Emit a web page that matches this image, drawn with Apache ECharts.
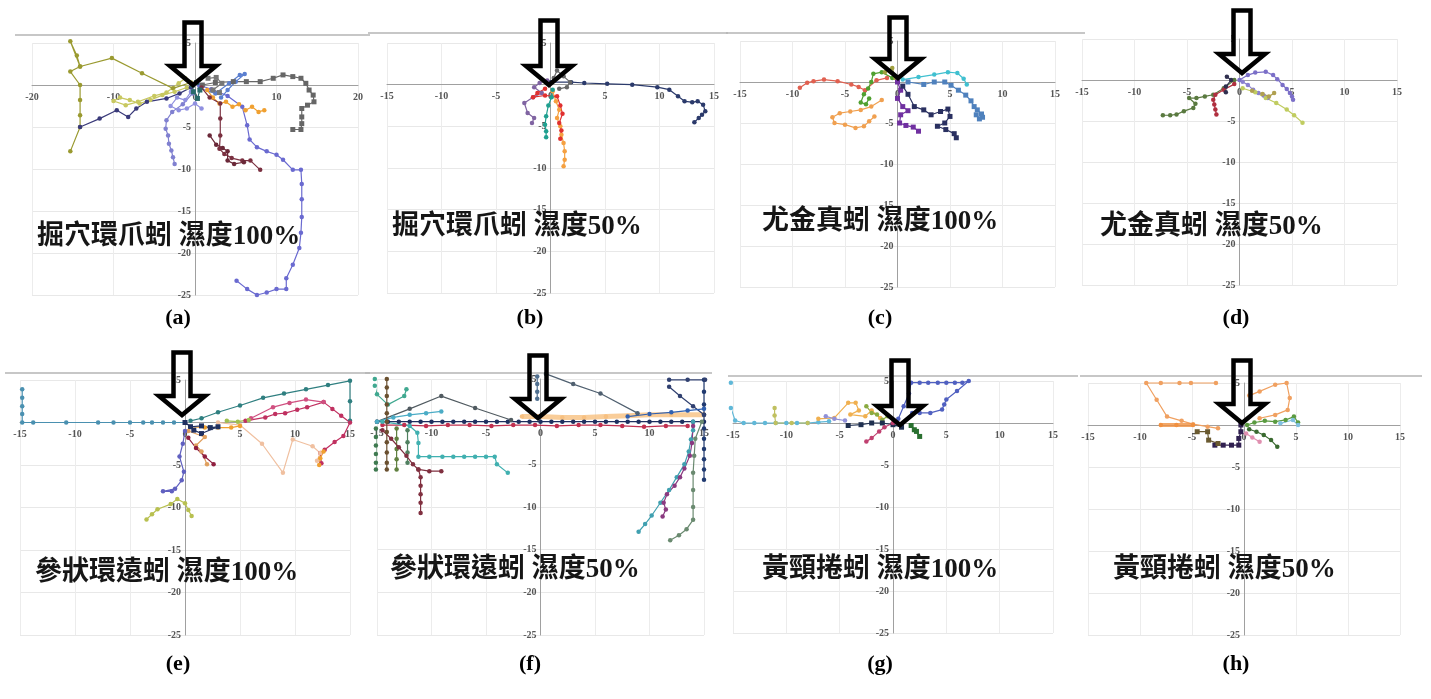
<!DOCTYPE html>
<html><head><meta charset="utf-8">
<script src="https://cdn.jsdelivr.net/npm/echarts@6/dist/echarts.min.js"></script>
<style>html,body{margin:0;padding:0;background:#fff}#c{width:1431px;height:699px}</style>
</head><body><div id="c"></div>
<script>
// ---------- DATA ----------
const panelTitles = ['掘穴環爪蚓 濕度100%','掘穴環爪蚓 濕度50%','尤金真蚓 濕度100%','尤金真蚓 濕度50%',
  '參狀環遠蚓 濕度100%','參狀環遠蚓 濕度50%','黃頸捲蚓 濕度100%','黃頸捲蚓 濕度50%'];
const captions = ['(a)','(b)','(c)','(d)','(e)','(f)','(g)','(h)'];
const xRanges = [[-20,20,10],[-15,15,5],[-15,15,5],[-15,15,5],[-15,15,5],[-15,15,5],[-15,15,5],[-15,15,5]];
const yRange = [-25,5,5];

// (a)
const A_olive = [[-0.5,0.3],[-2.7,-0.4],[-6.5,1.4],[-10.2,3.2],[-14.1,2.2],[-15.3,5.2],[-14.5,3.5],[-14.1,2.2],[-15.3,1.6],[-14.1,0],[-14.1,-1.8],[-14.1,-3.6],[-14.1,-5.0],[-15.3,-7.9]];
const A_yg = [[-1.0,-0.3],[-2.5,-0.8],[-4.0,-1.2],[-5.5,-1.8],[-6.8,-2.2],[-8.0,-1.8],[-9.2,-1.5],[-10.0,-1.9],[-8.5,-2.4],[-7.0,-2.0],[-5.0,-1.3],[-3.5,-0.9],[-2.0,0.2],[-1.2,0.8]];
const A_navy = [[-14.1,-5.0],[-11.7,-4.0],[-9.6,-3.0],[-8.2,-3.8],[-7.2,-2.8],[-5.9,-2.0],[-3.5,-1.6],[-1.9,-1.0],[-0.5,-0.3]];
const A_lav = [[-0.3,-1.0],[-1.5,-2.3],[-2.8,-3.2],[-3.5,-4.2],[-3.6,-5.2],[-3.3,-6.0],[-3.2,-7.0],[-2.9,-7.8],[-2.7,-8.6],[-2.5,-9.4]];
const A_lav2 = [[-0.5,-0.8],[-1.2,-1.8],[-2.2,-1.5],[-3.0,-2.5],[-2.0,-3.0],[-1.0,-2.8],[0.0,-2.2],[0.8,-2.8]];
const A_blue = [[0.5,0],[2,-0.5],[4,-1.3],[5.8,-2.6],[6.4,-4.8],[6.7,-6.5],[7.6,-7.4],[8.8,-7.9],[10,-8.3],[10.8,-8.9],[12,-10.1],[13,-10.1],[13.1,-11.8],[13.1,-13.6],[13.1,-15.7],[13,-17.6],[12.8,-19.4],[12,-21.4],[11.2,-23],[11.2,-24.3],[10,-24.3],[8.8,-24.7],[7.6,-25],[6.4,-24.3],[5.1,-23.3]];
const A_blue2 = [[0.6,-0.4],[2.5,-1.0],[4.2,0.2],[5.5,1.2],[6.1,1.3],[5.0,0.4],[4.0,-0.6],[3.2,-1.5]];
const A_gray = [[0.9,0],[2.5,0.3],[4.7,0.4],[6.3,0.4],[8.0,0.4],[9.6,0.8],[10.8,1.2],[12.0,1.0],[13.0,0.8],[13.6,0.2],[14.0,-0.6],[14.5,-1.2],[14.6,-2.0],[13.8,-2.4],[13.1,-2.8],[13.1,-3.8],[13.1,-4.6],[13.0,-5.3],[12.0,-5.3]];
const A_gray2 = [[1.6,0.8],[2.6,0.9],[3.3,0.2],[2.2,-0.6],[3.0,-0.9]];
const A_orange = [[1.5,-0.6],[2.2,-1.5],[3.0,-2.2],[3.8,-2.0],[4.6,-2.6],[5.4,-2.3],[6.2,-3.0],[7.0,-2.6],[7.8,-3.2],[8.5,-3.0]];
const A_maroon = [[0.8,-0.3],[1.8,-1.5],[3.1,-2.2],[3.1,-4.0],[3.1,-6.0],[3.0,-7.6],[3.6,-8.2],[4.5,-8.7],[5.8,-9.0],[6.8,-9.0],[8.0,-10.1]];
const A_maroon2 = [[1.8,-6.0],[2.6,-7.1],[3.4,-7.5],[4.0,-7.9],[4.0,-9.0],[4.8,-9.4],[6.0,-9.2]];
const A_teal = [[-0.3,0],[-0.2,-0.8],[0.3,-1.6],[0.6,-0.6],[0.2,0.3]];

// (b)
const B_navy = [[0,0.3],[1.9,0.3],[3.1,0.2],[5.2,0.1],[7.5,0],[9.8,-0.3],[10.9,-0.6],[11.7,-1.4],[12.3,-2.0],[13,-2.1],[13.5,-2.0],[14,-2.4],[14.2,-3.2],[13.9,-3.6],[13.6,-4.0],[13.2,-4.5]];
const B_purple = [[-0.3,0.5],[-1.0,0.2],[-1.5,-0.3],[-0.8,-1.0],[-1.6,-1.5],[-2.4,-2.2],[-2.1,-3.4],[-1.5,-4.0],[-1.7,-4.6]];
const B_gray = [[0.3,0.8],[0.6,1.7],[1.2,1.0],[1.8,0.3],[1.5,-0.3],[0.8,-0.5]];
const B_orange = [[0.2,-0.8],[0.5,-2],[0.8,-3],[0.6,-4],[0.9,-5],[1.0,-6],[1.2,-7],[1.3,-8],[1.3,-9],[1.2,-9.8]];
const B_red = [[-0.5,-0.5],[-1.2,-1.0],[-1.6,-1.5],[-0.5,-1.3],[0.6,-1.4],[0.9,-2.5],[1.1,-3.5],[0.8,-4.6],[1.0,-5.5],[0.9,-6.5]];
const B_teal = [[0.2,-0.6],[0.1,-1.5],[-0.2,-2.5],[-0.4,-3.8],[-0.5,-4.8],[-0.4,-5.6],[-0.4,-6.3]];

// (c)
const C_red = [[-1,0.5],[-2,0.2],[-3.1,-1.0],[-3.7,-0.6],[-4.4,-0.3],[-5.7,0.1],[-7.0,0.3],[-8.0,0.1],[-8.6,-0.1],[-9.3,-0.7]];
const C_green = [[-0.5,0.5],[-1.5,1.2],[-2.3,1.0],[-2.5,0],[-2.8,-0.8],[-3.2,-1.5],[-3.5,-2.5],[-3.0,-2.7],[-2.7,-2.0]];
const C_orange = [[-1.5,-2.2],[-2.5,-3.0],[-3.5,-3.4],[-4.5,-3.6],[-5.5,-3.8],[-6.2,-4.3],[-6.0,-5.0],[-5.0,-5.2],[-4.0,-5.6],[-3.2,-5.4],[-2.7,-4.8],[-2.2,-4.2]];
const C_olive = [[-0.2,0.5],[-0.5,1.7],[-1.2,1.2]];
const C_purple = [[0,0],[0.3,-1],[0.0,-2],[0.5,-3],[1.0,-3.5],[0.3,-4],[0.2,-5],[0.8,-5.3],[1.5,-5.5],[2,-6]];
const C_navy = [[0.5,-0.5],[1,-1.5],[1.6,-3.0],[2.5,-3.4],[3.2,-4.0],[4.1,-3.6],[4.8,-3.3],[5.0,-4.2],[4.5,-5.0],[3.8,-5.4],[4.6,-5.8],[5.4,-6.3],[5.6,-6.8]];
const C_blue = [[1,0],[2.5,-0.3],[3.5,0],[4.5,0],[5.1,-0.4],[5.8,-1],[6.5,-1.6],[7,-2.3],[7.3,-3],[7.6,-3.4],[8,-3.9],[8.1,-4.3],[7.8,-4.5],[7.5,-4.0]];
const C_aqua = [[0.5,0.3],[2,0.6],[3.5,0.9],[4.8,1.2],[5.7,1.1],[6.3,0.4],[6.6,-0.3]];

// (d)
const D_purple = [[0,0],[0.8,0.6],[1.5,0.9],[2.5,1.0],[3.2,0.6],[3.6,0.1],[4.1,-0.6],[4.5,-1.1],[4.8,-1.6],[5.0,-2.0],[5.1,-2.4]];
const D_purple2 = [[0.3,-0.2],[0.8,-0.6],[1.3,-1.2],[1.8,-1.6],[2.3,-1.9],[2.7,-2.2]];
const D_yg = [[0.3,-1.0],[1.5,-1.5],[2.5,-2.2],[3.5,-2.8],[4.5,-3.6],[5.2,-4.3],[6.0,-5.2]];
const D_olive = [[1.2,-1.3],[2.2,-1.7],[2.8,-2.0],[3.3,-1.6]];
const D_green = [[-0.5,0],[-1.5,-1],[-2.5,-1.8],[-3.3,-2.0],[-4.1,-2.2],[-4.8,-2.2],[-4.2,-2.9],[-4.4,-3.4],[-5.3,-3.8],[-6.0,-4.2],[-6.6,-4.3],[-7.3,-4.3]];
const D_red = [[-0.5,-0.5],[-1.5,-1.2],[-2.3,-1.8],[-2.5,-2.4],[-2.4,-3.0],[-2.3,-3.6],[-2.2,-4.2]];
const D_navy = [[-1.2,0.4],[-0.8,0],[-1.3,-0.8],[-1.3,-1.5]];

// (e)
const E_blue = [[0,0],[-1,0],[-2,0],[-3,0],[-3.8,0],[-5,0],[-6.5,0],[-7.9,0],[-10.8,0],[-13.8,0],[-14.8,0],[-14.8,1.0],[-14.8,1.9],[-14.8,2.9],[-14.8,3.9]];
const E_teal = [[0.5,0.2],[1.5,0.5],[3,1.2],[5,2],[7.1,2.9],[9,3.4],[11,3.9],[13,4.4],[15,4.9],[15,2.5],[15,0.2]];
const E_crimson = [[5.5,0.2],[7.3,0.6],[8.2,1.0],[9.1,1.1],[10.2,1.5],[11.1,1.8],[12.6,2.4],[13.4,1.6],[14.2,0.8],[15,0],[14.4,-1.6],[13.6,-2.3],[12.7,-3.2],[12.3,-3.6],[12.4,-4.8]];
const E_pink = [[6,0.5],[8,1.8],[9.5,2.3],[11,2.7],[12.6,2.4]];
const E_peach = [[3,0],[5,-0.3],[7,-2.5],[8.9,-5.9],[9.8,-2.0],[11.6,-2.8],[12.3,-3.6],[12,-4.5]];
const E_orange = [[0.5,-0.5],[1.8,-0.6],[3,-0.6],[4.2,-0.6],[5,-0.4]];
const E_orange2 = [[12.6,-3.4],[12.3,-4.2],[12.2,-5.0]];
const E_lgreen = [[3.8,0.2],[4.8,0.1],[5.8,0.3]];
const E_navy = [[0,0],[0.5,-0.5],[1.5,-0.4],[2.3,-0.6],[3,-0.5],[1.5,-1.3],[0.8,-0.9]];
const E_tan = [[0.3,-1],[1.8,-1.7],[1,-2.7],[1.5,-3.4],[2,-4.9]];
const E_maroon = [[0.3,-1.8],[1.0,-3.0],[1.8,-4.0],[2.6,-4.9]];
const E_purple = [[0,-1],[-0.2,-2.5],[-0.5,-4],[-0.1,-5.8],[-0.3,-6.8],[-0.9,-7.8],[-2.0,-8.1],[-1.2,-8.1]];
const E_yg = [[-3.5,-11.4],[-3,-10.8],[-2.5,-10.2],[-1.3,-9.6],[-0.7,-9.0],[0,-9.5],[0.3,-10.3],[0.6,-11.0]];

// (f)
const F_navy = [[-15,0],[-14,0],[-13,0],[-12,0],[-11,0],[-10,0],[-9,0],[-8,0],[-7,0],[-6,0],[-5,0],[-4,0],[-3,0],[-2,0],[-1,0],[0,0],[1,0],[2,0],[3,0],[4,0],[5,0],[6,0],[7,0],[8,0],[9,0],[10,0],[11,0],[12,0],[13,0],[14,0],[15,0]];
const F_crimson = [[-14.5,-0.4],[-12.5,-0.4],[-10.5,-0.5],[-8.5,-0.4],[-6.5,-0.4],[-4.5,-0.5],[-2.5,-0.4],[-0.5,-0.4],[1.5,-0.5],[3.5,-0.4],[5.5,-0.4],[7.5,-0.5],[9.5,-0.6],[11.5,-0.5],[13.5,-0.5]];
const F_orange = [[-1.7,0.6],[0,0.6],[2,0.5],[4,0.5],[6,0.6],[8,0.7],[10,0.8],[12,0.8],[15,0.8]];
const F_gray = [[-15,0],[-12,1.5],[-9.1,3.0],[-6,1.6],[-2.7,0.2]];
const F_slate = [[0.5,5.6],[3,4.4],[5.5,3.3],[8.9,1.0]];
const F_slate2 = [[-0.3,5.3],[-0.3,4.4],[-0.3,3.5],[-0.3,2.7]];
const F_teal = [[-15,0],[-13.5,0.5],[-12,0.8],[-10.5,1.0],[-9.1,1.2]];
const F_teal2 = [[-14.5,0],[-12,-0.5],[-11.3,-1.3],[-11.2,-2.5],[-11.2,-4.1],[-10.2,-4.1],[-9,-4.1],[-8,-4.1],[-7,-4.1],[-6,-4.1],[-5,-4.1],[-4.2,-4.1],[-4.0,-5.0],[-3.0,-6.0]];
const F_teal3 = [[-15.2,5.0],[-15.2,4.2],[-15.0,3.2],[-14,2.0],[-12.5,3.0],[-12.3,3.8]];
const F_green = [[-15.1,-0.8],[-15.1,-1.8],[-15.1,-2.8],[-15.1,-3.8],[-15.1,-4.8],[-15.1,-5.6]];
const F_brown = [[-14.1,5.0],[-14.1,4.0],[-14.1,3.0],[-14.1,2.0],[-14.1,1.0],[-14.1,0],[-14.1,-1.2],[-14.1,-2.4],[-14.1,-3.6],[-14.1,-4.8],[-14.1,-5.6]];
const F_green2 = [[-13.2,-0.8],[-13.2,-2],[-13.2,-3.2],[-13.2,-4.4],[-13.2,-5.6]];
const F_green3 = [[-12.2,-1],[-12.2,-2.4],[-12.2,-3.6],[-12.2,-4.8]];
const F_maroon = [[-14.5,-1],[-13.7,-2],[-13,-3],[-12.3,-4],[-11.7,-5],[-11.2,-5.6],[-11,-6.5],[-11,-7.5],[-11,-8.5],[-11,-9.5],[-11,-10.7]];
const F_maroon2 = [[-11.2,-5.6],[-10.2,-5.8],[-9.1,-5.8]];
const F_dark = [[15,4.9],[15,3.5],[15,2],[15,0.8],[15,-0.8],[15,-2],[15,-3.2],[15,-4.4],[15,-5.6],[15,-6.8]];
const F_graygreen = [[14.8,0],[14.2,-2],[14.1,-4],[14,-6],[14,-8],[14,-10],[14,-11.5],[13.4,-12.6],[12.7,-13.3],[11.9,-13.9]];
const F_aqua = [[14,0],[14,-1],[13.8,-2.1],[13.6,-3.5],[13.2,-5],[12.5,-6.5],[11.8,-8],[11,-9.5],[10.2,-11],[9.6,-12],[9.0,-12.9]];
const F_magenta = [[14,-0.5],[13.9,-2.5],[13.7,-4],[13.2,-5.5],[12.8,-6.5],[12.3,-7.5],[11.6,-8.5],[11.3,-9.5],[11.5,-10.3],[11.2,-11.1]];
const F_top1 = [[11.8,4.9],[13.5,4.9],[15.1,4.9]];
const F_top2 = [[11.8,4.1],[12.8,3.0],[14,1.8],[15,0.8]];
const F_blue = [[8,0.6],[10,0.9],[12,1.1],[13.5,1.3],[15,1.5]];

// (g)
const G_aqua = [[-15.2,4.8],[-15.2,1.8],[-14.8,0.3],[-14,0],[-13,0],[-12,0],[-11,0],[-10,0],[-9,0],[-8,0],[-7,0.1],[-6,0.2]];
const G_khaki = [[-11.1,1.8],[-11.1,0.9],[-11,0],[-9.5,0],[-8,0]];
const G_orange = [[-7,0.5],[-5.5,0.6],[-4.2,2.4],[-3.5,2.4],[-3.2,1.5],[-4,1.0],[-2.6,0.8],[-2,1.5],[-1.2,0.6]];
const G_green = [[-2.5,2],[-2,1.2],[-1.5,1],[-1,0.4],[-0.5,0.8]];
const G_navy = [[-4.2,-0.3],[-3,-0.2],[-2,0],[-1,0],[0,-0.2],[0.8,-0.5]];
const G_blue = [[0.5,0.5],[1,2],[1.5,3.5],[1.7,4.8],[2.5,4.8],[3.3,4.8],[4.2,4.8],[5,4.8],[5.8,4.8],[6.5,4.8],[7.1,5.0],[6,3.8],[5,2.8],[4.8,2.2],[4.6,1.6],[3.5,1.2],[2.5,1.2],[1.8,1.2]];
const G_pink = [[0,0],[-0.8,-0.5],[-1.3,-1],[-2,-1.8],[-2.5,-2.2]];
const G_dgreen = [[1.7,-0.3],[2.0,-0.8],[2.5,-1.6],[2.2,-1.0]];
const G_lav = [[-6.3,0.8],[-5.5,0.5],[-4.5,0.3]];

// (h)
const H_orange = [[-2.7,5],[-5.1,5],[-6.2,5],[-8,5],[-9.4,5],[-8.4,3],[-7.4,1.0],[-6,0.5],[-4.9,0.1],[-3.5,-0.2],[-2.5,-0.4]];
const H_orange2 = [[0.5,3.5],[1.5,4],[3,4.8],[4.1,5.0],[4.4,3.2],[4.2,1.8],[3,1.2],[1.5,0.8]];
const H_orange3 = [[-8,0],[-6.5,0],[-4.9,0]];
const H_navy = [[-0.3,0],[-0.3,-0.8],[-0.5,-1.6],[-0.5,-2.4],[-1.2,-2.4],[-2,-2.4],[-2.8,-2.4]];
const H_brown = [[-4.5,-0.8],[-3.5,-0.8],[-3.4,-1.8],[-2.5,-2.2]];
const H_green = [[0.3,0],[1,0.3],[2,0.5],[3,0.4],[4,0.6],[4.8,1.0],[5.2,0.3]];
const H_dgreen = [[0.5,-0.5],[1.2,-0.8],[1.9,-1.2],[2.6,-1.8],[3.2,-2.6]];
const H_lblue = [[3.5,0.2],[4.7,0.6],[5.2,0]];
const H_pink = [[0.2,-1],[0.8,-1.5],[1.5,-2]];

// ---------- LAYOUT / STYLE ----------
const layout = [
  {g:[32,43,326,252],  t:[37,224],   ar:[193,20,90],   c:[178,320], line:[15,35,370]},
  {g:[387,43,327,250], t:[392,214],  ar:[549,18,90],   c:[530,320], line:[368,33,728]},
  {g:[740,41,315,246], t:[762,209],  ar:[898,15,83],   c:[880,320], line:[726,33,1085]},
  {g:[1082,39,315,246],t:[1100,214], ar:[1242,8,78],   c:[1236,320], line:null},
  {g:[20,380,330,255], t:[35,560],   ar:[182,350,420], c:[178,666], line:[5,373,370]},
  {g:[377,379,327,256],t:[390,557],  ar:[538,353,423], c:[530,666], line:[365,373,712]},
  {g:[733,381,320,252],t:[762,557],  ar:[900,358,430], c:[880,666], line:[728,376,1078]},
  {g:[1088,383,312,252],t:[1113,557],ar:[1242,358,428],c:[1236,666], line:[1080,376,1422]}
];
const panelSeries = [
  [[A_olive,'#9a9a30'],[A_yg,'#c8c860'],[A_navy,'#3a3a7a'],[A_lav,'#8080d0'],[A_lav2,'#9090e0'],[A_blue,'#6a6ad0'],[A_blue2,'#5b7fd0'],[A_gray,'#666666','rect'],[A_gray2,'#777777','rect'],[A_orange,'#f0a030'],[A_maroon,'#7a3040'],[A_maroon2,'#6a2838'],[A_teal,'#2a6a6a','rect']],
  [[B_navy,'#2b3a6b'],[B_purple,'#8064a2'],[B_gray,'#666666'],[B_orange,'#f5a040'],[B_red,'#e03030'],[B_teal,'#20a090']],
  [[C_red,'#e06050'],[C_green,'#50a030'],[C_orange,'#f0a050'],[C_olive,'#a0a040'],[C_purple,'#7030a0','rect'],[C_navy,'#2a3060','rect'],[C_blue,'#4f81bd','rect'],[C_aqua,'#40c0d0']],
  [[D_purple,'#7b6fc8'],[D_purple2,'#8a80d0'],[D_yg,'#c0cc60'],[D_olive,'#b0a050'],[D_green,'#5a7a40'],[D_red,'#b03040'],[D_navy,'#303050']],
  [[E_blue,'#4a90b0'],[E_teal,'#2f7f80'],[E_crimson,'#c03060'],[E_pink,'#d05080'],[E_peach,'#f0c0a0'],[E_orange,'#f0a030'],[E_orange2,'#f0a030'],[E_lgreen,'#a0c050'],[E_navy,'#203060','rect'],[E_tan,'#e0a060'],[E_maroon,'#902040'],[E_purple,'#6060c0'],[E_yg,'#b8c050']],
  [[F_orange,'#f7c080',null,5],[F_navy,'#1f3060'],[F_crimson,'#c03050'],[F_gray,'#505a60'],[F_slate,'#506070'],[F_slate2,'#507090'],[F_teal,'#4bacc6'],[F_teal2,'#40b0b0'],[F_teal3,'#40a890'],[F_green,'#3f7a50'],[F_brown,'#6a5030'],[F_green2,'#608040'],[F_green3,'#508060'],[F_maroon,'#803040'],[F_maroon2,'#803040'],[F_dark,'#203a70'],[F_graygreen,'#6a8a70'],[F_aqua,'#40a0b0'],[F_magenta,'#8a3a80'],[F_top1,'#304070'],[F_top2,'#304070'],[F_blue,'#3060b0']],
  [[G_aqua,'#60b8d8'],[G_khaki,'#c0c060'],[G_orange,'#f0b050'],[G_green,'#8aaa40'],[G_navy,'#203050','rect'],[G_blue,'#5060c0'],[G_pink,'#c04070'],[G_dgreen,'#2a7030','rect'],[G_lav,'#9090d8']],
  [[H_orange,'#f0a060'],[H_orange2,'#f0a060'],[H_orange3,'#f09040',null,4],[H_navy,'#302050','rect'],[H_brown,'#6a5a30','rect'],[H_green,'#5a9a40'],[H_dgreen,'#3a6a30'],[H_lblue,'#80c0e0'],[H_pink,'#e090b0']]
];

const labelFont = {fontFamily:"'Liberation Serif', serif", fontSize:10, fontWeight:'bold', color:'#555'};
const grids = [], xAxes = [], yAxes = [], series = [], titles = [], graphics = [];
layout.forEach((L, i) => {
  const [gl, gt, gw, gh] = L.g;
  grids.push({left:gl, top:gt, width:gw, height:gh, outerBoundsMode:'none', containLabel:false});
  const xr = xRanges[i];
  // distance from grid edge to the zero line, so the axes sit on the origin as in the figure
  const yZeroFromBottom = gh * (0 - yRange[0]) / (yRange[1] - yRange[0]);
  const xZeroFromLeft = gw * (0 - xr[0]) / (xr[1] - xr[0]);
  xAxes.push({type:'value', gridIndex:i, min:xr[0], max:xr[1], interval:xr[2], position:'bottom', offset:-yZeroFromBottom,
    axisLine:{onZero:false, lineStyle:{color:'#a0a0a0', width:1}}, axisTick:{show:false},
    axisLabel:Object.assign({margin:7, showMinLabel:true, showMaxLabel:true}, labelFont),
    splitLine:{show:true, lineStyle:{color:'#ececec', width:1}}});
  yAxes.push({type:'value', gridIndex:i, min:yRange[0], max:yRange[1], interval:yRange[2], position:'left', offset:-xZeroFromLeft,
    axisLine:{onZero:false, lineStyle:{color:'#a0a0a0', width:1}}, axisTick:{show:false},
    axisLabel:Object.assign({margin:4, formatter:v => v === 0 ? '' : String(v)}, labelFont),
    splitLine:{show:true, lineStyle:{color:'#e8e8e8', width:1}}});
  panelSeries[i].forEach(s => {
    const [data, color, sym, lw] = s;
    series.push({type:'line', xAxisIndex:i, yAxisIndex:i, data:data, clip:false, silent:true,
      symbol: sym || 'circle', symbolSize: sym === 'rect' ? 5 : 4.5,
      lineStyle:{color:color, width: lw || 1.2, opacity: lw ? 0.8 : 1},
      itemStyle:{color:color}, z:3});
  });
  titles.push({text:panelTitles[i], left:L.t[0], top:L.t[1], padding:0, z:10,
    textStyle:{fontFamily:"'Liberation Serif','Noto Sans CJK TC'", fontSize:27, fontWeight:'bold', color:'#161616'}});
  titles.push({text:captions[i], left:L.c[0], top:L.c[1]-13, textAlign:'center', padding:0,
    textStyle:{fontFamily:"'Liberation Serif', serif", fontSize:22, fontWeight:'bold', color:'#000'}});
  if (L.line) graphics.push({type:'line', z:1, shape:{x1:L.line[0], y1:L.line[1], x2:L.line[2], y2:L.line[1]}, style:{stroke:'#b4b4b4', lineWidth:1.5}});
  const [cx, top, tip] = L.ar;
  const t = top + 2.5, tp = tip - 5, sb = tip - 24, sw = 8.5, hw = 23;
  graphics.push({type:'polygon', z:100, shape:{points:[[cx-sw,t],[cx+sw,t],[cx+sw,sb],[cx+hw,sb],[cx,tp],[cx-hw,sb],[cx-sw,sb]]},
    style:{fill:'transparent', stroke:'#000', lineWidth:4.5, lineJoin:'miter'}});
});

const chart = echarts.init(document.getElementById('c'));
chart.setOption({animation:false, backgroundColor:'#fff', grid:grids, xAxis:xAxes, yAxis:yAxes, series:series, title:titles, graphic:graphics});
</script></body></html>
